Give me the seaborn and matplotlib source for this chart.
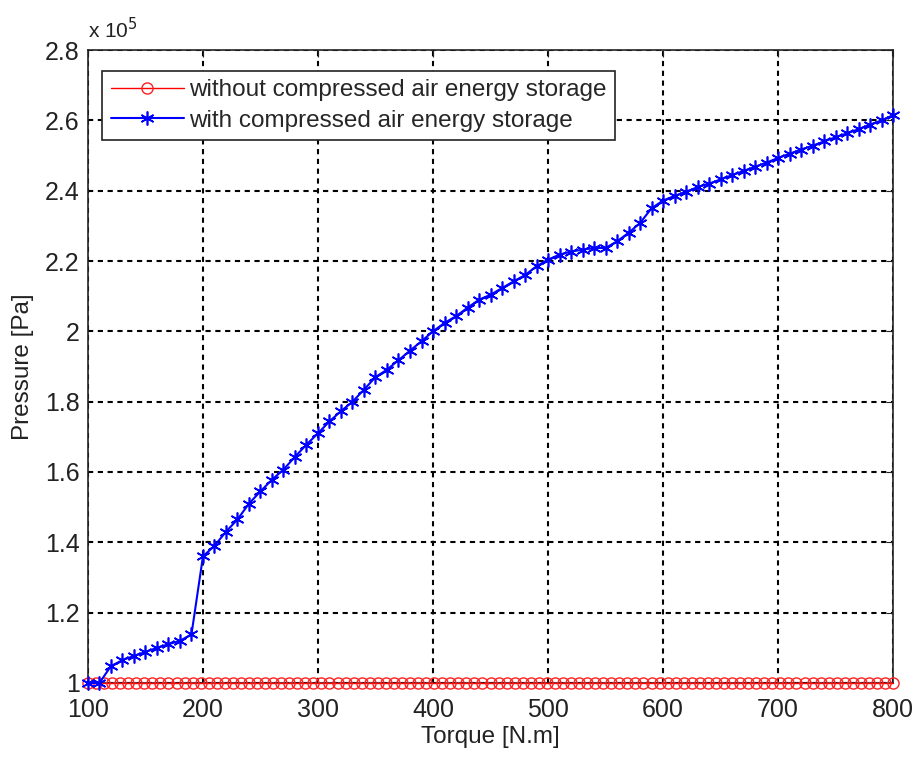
import numpy as np
import pandas as pd
import matplotlib
matplotlib.use("Agg")
import matplotlib.pyplot as plt
import seaborn as sns

# ---- data (pressure in units of 1e5 Pa) ----
torque_with = list(range(100, 801, 10))
pressure_with = [
    1.000, 1.000, 1.048, 1.065, 1.077, 1.088, 1.100, 1.110, 1.120, 1.138,
    1.360, 1.390, 1.430, 1.465, 1.510, 1.545, 1.578, 1.607, 1.643, 1.678,
    1.710, 1.744, 1.773, 1.800, 1.834, 1.870, 1.891, 1.918, 1.945, 1.972,
    2.000, 2.024, 2.043, 2.067, 2.090, 2.104, 2.123, 2.142, 2.160, 2.185,
    2.204, 2.218, 2.227, 2.232, 2.237, 2.237, 2.256, 2.280, 2.308, 2.350,
    2.372, 2.385, 2.397, 2.410, 2.420, 2.432, 2.444, 2.456, 2.468, 2.480,
    2.493, 2.505, 2.517, 2.528, 2.540, 2.552, 2.563, 2.575, 2.588, 2.600,
    2.615,
]
torque_without = list(range(100, 801, 7))
pressure_without = [1.0] * len(torque_without)

x_ticks = [100, 200, 300, 400, 500, 600, 700, 800]
y_ticks = [1.0, 1.2, 1.4, 1.6, 1.8, 2.0, 2.2, 2.4, 2.6, 2.8]
y_tick_labels = ["1", "1.2", "1.4", "1.6", "1.8", "2", "2.2", "2.4", "2.6", "2.8"]

label_without = "without compressed air energy storage"
label_with = "with compressed air energy storage"

# ---- plot ----
sns.set_style("white")
plt.rcParams["font.family"] = ["Liberation Sans", "DejaVu Sans"]

fig = plt.figure(figsize=(9.16, 7.58), dpi=100)
ax = fig.add_axes([0.096, 0.099, 0.879, 0.835])

df_wo = pd.DataFrame({"Torque": torque_without, "Pressure": pressure_without})
df_w = pd.DataFrame({"Torque": torque_with, "Pressure": pressure_with})

sns.lineplot(data=df_wo, x="Torque", y="Pressure", ax=ax, color="#ff0000",
             marker="o", markersize=8, markerfacecolor="none",
             markeredgecolor="#ff2020", markeredgewidth=1.0, linewidth=1.0,
             sort=False, estimator=None, label=label_without, clip_on=False,
             zorder=5)
sns.lineplot(data=df_w, x="Torque", y="Pressure", ax=ax, color="#0000ff",
             marker=(6, 2, 0), markersize=10, markeredgecolor="#0000ff",
             markeredgewidth=1.2, linewidth=1.5,
             sort=False, estimator=None, label=label_with, clip_on=False,
             zorder=6)

ax.set_xlim(100, 800)
ax.set_ylim(1.0, 2.8)
ax.set_xticks(x_ticks)
ax.set_yticks(y_ticks)
ax.set_yticklabels(y_tick_labels)

ax.grid(True, color="black", linestyle=(0, (2.5, 2.2)), linewidth=1.5)
ax.set_axisbelow(True)
for s in ax.spines.values():
    s.set_visible(True)
    s.set_color("#222222")
    s.set_linewidth(1.2)

ax.tick_params(axis="both", which="both", direction="in", length=5,
               top=True, right=True, labelsize=18, colors="#222222",
               labelcolor="#222222")
ax.tick_params(axis="x", pad=11)
ax.tick_params(axis="y", pad=6)

ax.set_xlabel("Torque [N.m]", fontsize=17.5, color="#222222", labelpad=3)
ax.set_ylabel("Pressure [Pa]", fontsize=17.5, color="#222222", labelpad=8)

ax.text(0.0, 1.012, r"x 10$^5$", transform=ax.transAxes, fontsize=15,
        color="#222222", ha="left", va="bottom")

leg = ax.legend(loc="upper left", bbox_to_anchor=(0.012, 0.975), fontsize=17.5,
                frameon=True, fancybox=False, edgecolor="#222222",
                handlelength=3.0, borderpad=0.35, labelspacing=0.35,
                handletextpad=0.2, borderaxespad=0.2)
leg.get_frame().set_linewidth(1.2)
leg.get_frame().set_facecolor("white")
leg.get_frame().set_alpha(1.0)

fig.savefig("out.png", dpi=100, facecolor="white")
